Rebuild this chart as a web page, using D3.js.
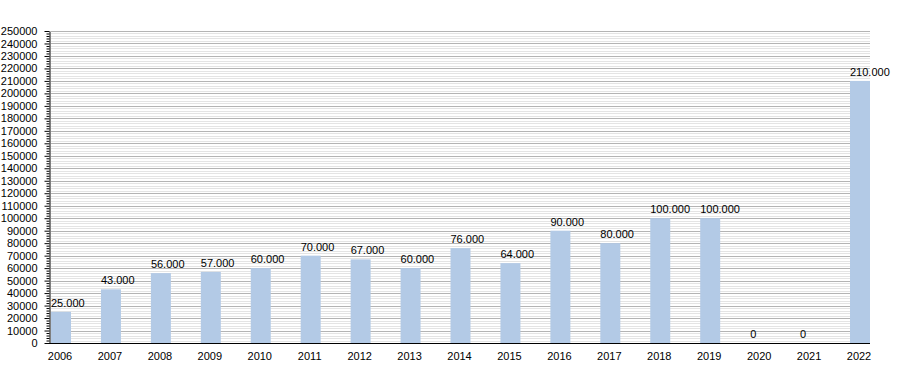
<!DOCTYPE html>
<html>
<head>
<meta charset="utf-8">
<script src="https://cdn.jsdelivr.net/npm/d3@7"></script>
<style>
  body { margin: 0; background: #fff; }
  svg { display: block; font-family: "Liberation Sans", Arial, sans-serif; }
</style>
</head>
<body>
<div id="chart"></div>
<script>
const years = ["2006", "2007", "2008", "2009", "2010", "2011", "2012", "2013", "2014",
               "2015", "2016", "2017", "2018", "2019", "2020", "2021", "2022"];
const values = [25000, 43000, 56000, 57000, 60000, 70000, 67000, 60000, 76000,
                64000, 90000, 80000, 100000, 100000, 0, 0, 210000];
const yMax = 250000;
const majorStep = 10000;
const minorStep = 2000;

const width = 900;
const height = 373;
const plot = { left: 50, right: 870, top: 31, bottom: 343 };

const svg = d3.select("#chart")
    .append("svg")
    .attr("width", width)
    .attr("height", height);

const x = d3.scalePoint()
    .domain(years)
    .range([61, 860]);
const y = d3.scaleLinear()
    .domain([0, yMax])
    .range([plot.bottom, plot.top]);

const barWidth = 20;
const fmt = d3.formatLocale({ decimal: ",", thousands: ".", grouping: [3], currency: ["", ""] }).format(",");

// grid lines: minor first, major on top
const minorTicks = d3.range(0, yMax + 1, minorStep).filter(v => v % majorStep != 0);
const majorTicks = d3.range(majorStep, yMax + 1, majorStep);

svg.append("g")
    .selectAll("line")
    .data(minorTicks)
    .join("line")
    .attr("x1", plot.left + 1)
    .attr("x2", plot.right)
    .attr("y1", d => Math.round(y(d)) + 0.5)
    .attr("y2", d => Math.round(y(d)) + 0.5)
    .attr("stroke", "#e4e4e4");

svg.append("g")
    .selectAll("line")
    .data(majorTicks)
    .join("line")
    .attr("x1", plot.left + 1)
    .attr("x2", plot.right)
    .attr("y1", d => Math.round(y(d)) + 0.5)
    .attr("y2", d => Math.round(y(d)) + 0.5)
    .attr("stroke", "#b4b4b4");

// bars
svg.append("g")
    .selectAll("rect")
    .data(years)
    .join("rect")
    .attr("x", d => x(d) - barWidth / 2)
    .attr("y", (d, i) => y(values[i]))
    .attr("width", barWidth)
    .attr("height", (d, i) => y(0) - y(values[i]))
    .attr("fill", "#b3cae6");

// value labels
svg.append("g")
    .selectAll("text")
    .data(years)
    .join("text")
    .attr("x", d => x(d) - barWidth / 2)
    .attr("y", (d, i) => y(values[i]) - 5)
    .attr("font-size", 11)
    .attr("fill", "#000")
    .text((d, i) => fmt(values[i]));

// y axis: minor ticks, then major ticks with labels
const gyMinor = svg.append("g")
    .attr("transform", `translate(${plot.left - 0.5},0)`)
    .call(d3.axisLeft(y).tickValues(minorTicks).tickSize(3).tickFormat(""))
    .call(g => g.select(".domain").remove());

const gy = svg.append("g")
    .attr("transform", `translate(${plot.left - 0.5},0)`)
    .call(d3.axisLeft(y).tickValues([0, ...majorTicks]).tickSize(5).tickSizeOuter(0).tickPadding(7).tickFormat(d3.format("d")));
gy.selectAll("text").attr("font-size", 11).attr("font-family", "Liberation Sans, Arial, sans-serif").attr("fill", "#000");
gy.selectAll(".tick line").attr("stroke", "#000");

// x axis
const gx = svg.append("g")
    .attr("transform", `translate(0,${plot.bottom + 0.5})`)
    .call(d3.axisBottom(x).tickSize(0).tickPadding(9))
    .call(g => g.select(".domain").attr("d", `M${plot.left - 1},0H${plot.right}`));
gx.selectAll("text").attr("font-size", 11).attr("font-family", "Liberation Sans, Arial, sans-serif").attr("fill", "#000").attr("dx", -1.5);
</script>
</body>
</html>
